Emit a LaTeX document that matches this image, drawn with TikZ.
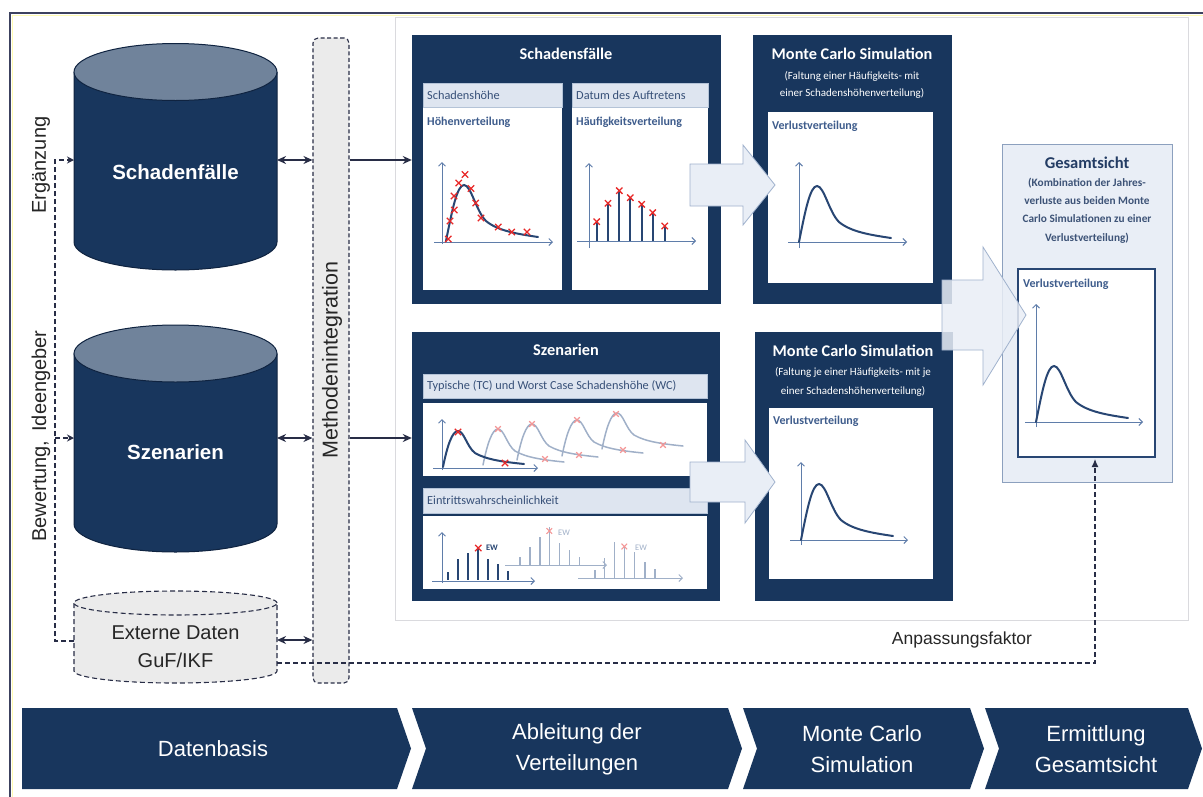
\documentclass[tikz,border=0pt]{standalone}
\usepackage{fontspec}
\setmainfont{Liberation Sans}
\newfontfamily\calfont{Carlito}
\usetikzlibrary{arrows.meta,fit,shapes.misc,calc}
\definecolor{navy}{RGB}{24,54,93}
\definecolor{navyline}{RGB}{15,35,64}
\definecolor{cyltop}{RGB}{112,131,155}
\definecolor{hdrfill}{RGB}{222,229,240}
\definecolor{hdrborder}{RGB}{180,195,215}
\definecolor{hdrtext}{RGB}{55,80,120}
\definecolor{lbltext}{RGB}{62,92,140}
\definecolor{axiscol}{RGB}{95,125,170}
\definecolor{curvecol}{RGB}{40,70,115}
\definecolor{fadecol}{RGB}{160,176,200}
\definecolor{lightfill}{RGB}{233,238,246}
\definecolor{arrowborder}{RGB}{160,178,205}
\definecolor{gsborder}{RGB}{140,160,190}
\definecolor{barfill}{RGB}{235,235,235}
\definecolor{dashcol}{RGB}{40,45,70}
\definecolor{panelline}{RGB}{218,218,222}
\definecolor{redx}{RGB}{232,40,40}
\definecolor{fredx}{RGB}{244,150,150}
\definecolor{gstitle}{RGB}{35,60,100}
\definecolor{framecol}{RGB}{60,65,95}
\begin{document}
\begin{tikzpicture}[x=1pt,y=-1pt,
  darkbox/.style={draw=navy, fill=navy, inner sep=0pt},
  hdr/.style={draw=hdrborder, fill=hdrfill, line width=0.6pt, inner sep=0pt},
  bodybox/.style={fill=white, inner sep=0pt},
  hdrtxt/.style={font=\calfont\fontsize{12.3}{14}\selectfont, text=hdrtext, anchor=west, inner sep=0pt},
  lbl/.style={font=\calfont\bfseries\fontsize{12}{14}\selectfont, text=lbltext, anchor=west, inner sep=0pt},
  ttl/.style={font=\calfont\bfseries\fontsize{16.3}{19}\selectfont, text=white, inner sep=0pt},
  subttl/.style={font=\calfont\fontsize{11}{12}\selectfont, text=white, inner sep=0pt},
  axis/.style={draw=axiscol, line width=1pt, -{Straight Barb[length=3.5pt,width=7pt]}},
  faxis/.style={draw=fadecol, line width=1pt, -{Straight Barb[length=3.5pt,width=7pt]}},
  curve/.style={draw=curvecol, line width=2pt, line cap=round},
  fcurve/.style={draw=fadecol, line width=1.5pt, line cap=round},
  stem/.style={draw=curvecol, line width=1.8pt},
  fstem/.style={draw=fadecol, line width=1.4pt},
  rx/.style={cross out, draw=redx, line width=1.3pt, minimum size=5pt, inner sep=0pt},
  frx/.style={cross out, draw=fredx, line width=1.1pt, minimum size=4.5pt, inner sep=0pt},
  blockarrow/.style={draw=arrowborder, fill=lightfill, line width=0.8pt},
  conn/.style={draw=dashcol, line width=1.5pt},
  tip/.style={},
  dashln/.style={draw=dashcol, line width=1.2pt, dash pattern=on 5pt off 3pt},
  cyltxt/.style={font=\bfseries\fontsize{20.5}{24}\selectfont, text=white},
  sidetxt/.style={font=\fontsize{20}{24}\selectfont, text=black!85, rotate=90},
  chev/.style={fill=navy},
  chevtxt/.style={font=\fontsize{22}{31}\selectfont, text=white, align=center},
  ewd/.style={font=\calfont\bfseries\fontsize{8.5}{9}\selectfont, text=curvecol, inner sep=0pt},
  ewf/.style={font=\calfont\fontsize{8.5}{9}\selectfont, text=fadecol, inner sep=0pt},
  pics/bigcurve/.style={code={\draw[curve] (0,0) .. controls (6,-30) and (11,-56) .. (18,-56) .. controls (25,-56) and (30,-30) .. (40,-20) .. controls (52,-10) and (72,-7) .. (92,-4);}},
  pics/smallcurve/.style={code={\draw[#1] (0,0) .. controls (4,-20) and (9,-36) .. (15,-36) .. controls (21,-36) and (24,-20) .. (32,-14) .. controls (44,-7) and (62,-5) .. (81,-3);}}
]
\useasboundingbox (0,0) rectangle (1203,796);
\fill[white] (0,0) rectangle (1203,796);

% outer frame
\draw[framecol, line width=1.6pt] (10,800) -- (10,13) -- (1210,13);
\draw[yellow!30!white, line width=1pt] (12.5,800) -- (12.5,15.5) -- (1210,15.5);

% inner panel
\node[draw=panelline, fill=white, line width=0.8pt, inner sep=0pt, fit={(395,17) (1188,620)}] (panel) {};

% ---------- cylinders ----------
\fill[navy] (74,72) -- (74,242) arc[start angle=180, end angle=360, x radius=101.5pt, y radius=28pt] -- (277,72) -- cycle;
\draw[navyline, line width=1pt] (74,72) -- (74,242) arc[start angle=180, end angle=360, x radius=101.5pt, y radius=28pt] -- (277,72);
\draw[navyline, line width=1pt, fill=cyltop] (175.5,72) ellipse[x radius=101.5pt, y radius=28.5pt];
\node[cyltxt] (cylA) at (175.5,172) {Schadenfälle};

\fill[navy] (74,353.5) -- (74,524) arc[start angle=180, end angle=360, x radius=101.5pt, y radius=28pt] -- (277,353.5) -- cycle;
\draw[navyline, line width=1pt] (74,353.5) -- (74,524) arc[start angle=180, end angle=360, x radius=101.5pt, y radius=28pt] -- (277,353.5);
\draw[navyline, line width=1pt, fill=cyltop] (175.5,353.5) ellipse[x radius=101.5pt, y radius=28.5pt];
\node[cyltxt] (cylB) at (175.5,452) {Szenarien};

\fill[barfill] (74,603) -- (74,671) arc[start angle=180, end angle=360, x radius=101.5pt, y radius=12pt] -- (277,603) -- cycle;
\draw[dashln, line width=1.1pt] (74,603) -- (74,671) arc[start angle=180, end angle=360, x radius=101.5pt, y radius=12pt] -- (277,603);
\draw[dashln, line width=1.1pt, fill=barfill] (175.5,603) ellipse[x radius=101.5pt, y radius=12pt];
\node[font=\fontsize{20}{28}\selectfont, text=black!85, align=center] (cylC) at (175.5,647) {Externe Daten\\GuF/IKF};

\coordinate (cylA-e) at (277,160);
\coordinate (cylA-w) at (74,160);
\coordinate (cylB-e) at (277,438);
\coordinate (cylB-w) at (74,438);
\coordinate (cylC-e) at (277,640);
\coordinate (cylC-w) at (74,641);
\coordinate (cylC-e2) at (277,663);

% side labels
\node[sidetxt] (lblA) at (41,165) {Ergänzung};
\node[sidetxt] (lblB) at (41,436) {Bewertung,\, Ideengeber};

% Methodenintegration bar
\node[draw=dashcol, dash pattern=on 4pt off 2.5pt, line width=1.1pt, fill=barfill, rounded corners=5pt, minimum width=36pt, minimum height=645pt, inner sep=0pt] (meth) at (331,360.5) {};
\node[rotate=90, font=\fontsize{21.5}{24}\selectfont, text=black!85] (methtxt) at (332,360) {Methodenintegration};

% left dashed feeds
\coordinate (ld1) at (55,160);
\coordinate (ld2) at (55,438);
\draw[dashln, -{Stealth[length=7pt,width=7pt]}] (cylC-w) -| (ld1) -- (cylA-w);
\draw[dashln, -{Stealth[length=7pt,width=7pt]}] (ld2) -- (cylB-w);

% ---------- panel boxes ----------
% Schadensfaelle
\node[darkbox, fit={(412,35) (720,303)}] (sf) {};
\node[ttl] (sft) at (566,54) {Schadensfälle};
\node[hdr, fit={(423,83) (562,107)}] (sfh1) {};
\node[hdrtxt] at (427,95) {Schadenshöhe};
\node[bodybox, fit={(423,107.5) (562,290)}] (sfb1) {};
\node[lbl] at (427,122) {Höhenverteilung};
\node[hdr, fit={(572,83) (708,107)}] (sfh2) {};
\node[hdrtxt] at (576,95) {Datum des Auftretens};
\node[bodybox, fit={(572,107.5) (708,290)}] (sfb2) {};
\node[lbl] at (576,122) {Häufigkeitsverteilung};

% chart Hoehenverteilung
\draw[axis] (442,244) -- (442,162);
\draw[axis] (434,242) -- (553,242);
\pic at (446,241) {bigcurve};
\foreach \p in {(448.3,239),(450,221),(454.3,210),(454,196),(458.7,183),(465,174.5),(471,188.5),(475.7,203),(481,218),(498.3,227),(511.7,232),(527,232)}
  \node[rx] at \p {};

% chart Haeufigkeitsverteilung
\draw[axis] (589,248) -- (589,163);
\draw[axis] (577,241) -- (696,241);
\foreach \x/\y in {596.7/221.7, 608/203.3, 619.3/190.7, 630.3/197.7, 641.7/204.3, 652.7/212.7, 664.7/226}{
  \draw[stem] (\x,241) -- (\x,\y);
  \node[rx] at (\x,\y) {};
}

% Szenarien
\node[darkbox, fit={(412,332) (719,600)}] (sz) {};
\node[ttl] (szt) at (566,350) {Szenarien};
\node[hdr, fit={(423,374) (707,398)}] (szh1) {};
\node[hdrtxt] at (427,386) {Typische (TC) und Worst Case Schadenshöhe (WC)};
\node[bodybox, fit={(423,403) (707,476)}] (szb1) {};
\node[hdr, fit={(423,488) (707,513)}] (szh2) {};
\node[hdrtxt] at (427,500.5) {Eintrittswahrscheinlichkeit};
\node[bodybox, fit={(423,516) (707,589)}] (szb2) {};

% TC/WC curves
\pic at (602,449) {smallcurve=fcurve};
\pic at (562,456) {smallcurve=fcurve};
\pic at (517,460) {smallcurve=fcurve};
\pic at (483,465) {smallcurve=fcurve};
\foreach \p in {(616,414),(663,445),(577,420),(623,450),(532,424),(579,455),(498,429),(545,459)}
  \node[frx] at \p {};
\draw[axis] (442,470) -- (442,419);
\draw[axis] (433,468) -- (538,468);
\pic at (443,467) {smallcurve=curve};
\node[rx] at (458,432) {};
\node[rx] at (505,463) {};

% Eintrittswahrscheinlichkeit stems
% faded group 3
\draw[faxis] (578,578) -- (683,578);
\foreach \x/\y in {595/570, 604.3/558.3, 614.3/541.7, 624.3/546.7, 634.3/551.7, 645/561.7, 655/569.3}
  \draw[fstem] (\x,578) -- (\x,\y);
\node[frx] at (624.3,546.5) {};
\node[ewf] at (641,548) {EW};
% faded group 2
\draw[faxis] (505,565) -- (607,565);
\foreach \x/\y in {520/556.7, 530/546.7, 540/536.7, 549.3/526.7, 559.3/543.3, 569.3/550, 579.3/556.7}
  \draw[fstem] (\x,565) -- (\x,\y);
\node[frx] at (549.3,531) {};
\node[ewf] at (564,533) {EW};
% dark group
\draw[axis] (442,583) -- (442,532);
\draw[axis] (432,581) -- (535,581);
\foreach \x/\y in {447.7/571.7, 458.3/559.3, 468.3/552.7, 478.3/548.3, 488.3/559.3, 498.3/564, 508.3/570.7}
  \draw[stem] (\x,579.5) -- (\x,\y);
\node[rx] at (478.3,548) {};
\node[ewd] at (492,548) {EW};

% Monte Carlo 1
\node[darkbox, fit={(753,35) (951,303)}] (mc1) {};
\node[ttl] (mc1t) at (852,54) {Monte Carlo Simulation};
\node[subttl] at (852,76) {(Faltung einer Häufigkeits- mit};
\node[subttl] at (852,93) {einer Schadenshöhenverteilung)};
\node[bodybox, fit={(768,112) (933,283)}] (mc1b) {};
\node[lbl] at (772,126) {Verlustverteilung};
\draw[axis] (799,248) -- (799,162);
\draw[axis] (788,242) -- (907,242);
\pic at (799,242) {bigcurve};

% Monte Carlo 2
\node[darkbox, fit={(755,332) (952,600)}] (mc2) {};
\node[ttl] (mc2t) at (853,351) {Monte Carlo Simulation};
\node[subttl] at (853,372) {(Faltung je einer Häufigkeits- mit je};
\node[subttl] at (853,391) {einer Schadenshöhenverteilung)};
\node[bodybox, fit={(769,408) (933,579)}] (mc2b) {};
\node[lbl] at (773,421) {Verlustverteilung};
\draw[axis] (801,545) -- (801,462);
\draw[axis] (790,540) -- (908,540);
\pic at (801,540) {bigcurve};

% block arrows into Monte Carlo boxes
\draw[blockarrow] (690,164) -- (743,164) -- (743,145) -- (775,185) -- (743,225) -- (743,206) -- (690,206) -- cycle;
\draw[blockarrow] (690,462) -- (745,462) -- (745,440) -- (775,482) -- (745,523) -- (745,502) -- (690,502) -- cycle;

% Gesamtsicht
\node[draw=gsborder, fill=lightfill, line width=1pt, inner sep=0pt, fit={(1002,144) (1172,482)}] (gs) {};
\node[font=\calfont\bfseries\fontsize{16.5}{19}\selectfont, text=gstitle] (gst) at (1087,163) {Gesamtsicht};
\node[font=\calfont\bfseries\fontsize{11.3}{18.3}\selectfont, text=gstitle!88!white, align=center] (gss) at (1087,210.5) {(Kombination der Jahres-\\verluste aus beiden Monte\\Carlo Simulationen zu einer\\Verlustverteilung)};
\node[draw=curvecol, fill=white, line width=1.3pt, inner sep=0pt, fit={(1018,269) (1155,457)}] (gsin) {};
\node[lbl] at (1023,284) {Verlustverteilung};
\draw[axis] (1036,427) -- (1036,304);
\draw[axis] (1025,422) -- (1143,422);
\pic at (1036,422) {bigcurve};

% big arrow into Gesamtsicht
\draw[blockarrow, fill opacity=0.85] (942,280) -- (983,280) -- (983,247) -- (1026,315) -- (983,385) -- (983,350) -- (942,350) -- cycle;

% connectors between Datenbasis, bar and panels
\draw[conn, {Stealth[length=9pt,width=8pt]}-{Stealth[length=9pt,width=8pt]}] (cylA-e) -- (cylA-e -| meth.west);
\draw[conn, {Stealth[length=9pt,width=8pt]}-{Stealth[length=9pt,width=8pt]}] (cylB-e) -- (cylB-e -| meth.west);
\draw[conn, {Stealth[length=9pt,width=8pt]}-{Stealth[length=9pt,width=8pt]}] (cylC-e) -- (cylC-e -| meth.west);
\draw[conn, -{Stealth[length=9pt,width=8pt]}] (cylA-e -| meth.east) -- (cylA-e -| sf.west);
\draw[conn, -{Stealth[length=9pt,width=8pt]}] (cylB-e -| meth.east) -- (cylB-e -| sz.west);

% Anpassungsfaktor dashed connector
\coordinate (gsin-in) at (1095,459);
\draw[dashln, -{Latex[length=8pt,width=7pt]}] (cylC-e2) -| (gsin-in);
\node[font=\fontsize{17.5}{20}\selectfont, text=black!85] (anp) at (962,640) {Anpassungsfaktor};

% ---------- process chevrons ----------
\fill[chev] (22,708) -- (397,708) -- (411,748.5) -- (397,789) -- (22,789) -- cycle;
\fill[chev] (412,708) -- (728,708) -- (742,748.5) -- (728,789) -- (412,789) -- (426,748.5) -- cycle;
\fill[chev] (743,708) -- (970,708) -- (984,748.5) -- (970,789) -- (743,789) -- (757,748.5) -- cycle;
\fill[chev] (985,708) -- (1188,708) -- (1202,748.5) -- (1188,789) -- (985,789) -- (999,748.5) -- cycle;
\node[chevtxt] (ch1) at (213,749) {Datenbasis};
\node[chevtxt] (ch2) at (577,749) {Ableitung der\\Verteilungen};
\node[chevtxt] (ch3) at (862,749) {Monte Carlo\\Simulation};
\node[chevtxt] (ch4) at (1096,749) {Ermittlung\\Gesamtsicht};
\end{tikzpicture}
\end{document}
